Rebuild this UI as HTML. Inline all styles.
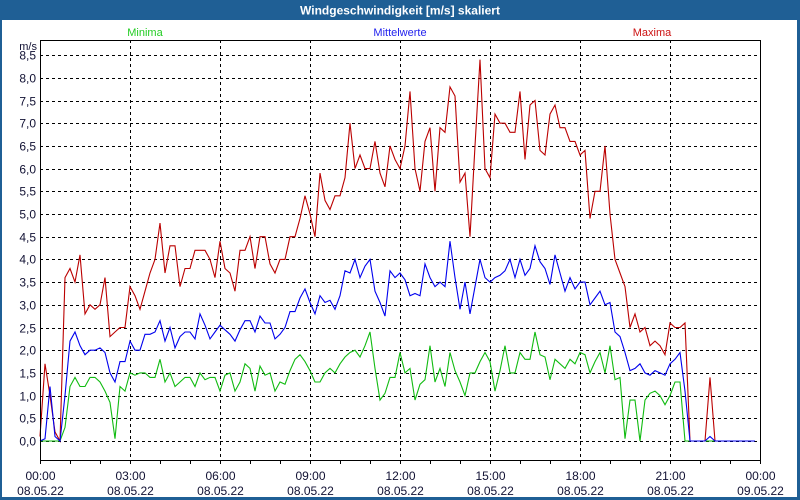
<!DOCTYPE html>
<html><head><meta charset="utf-8"><style>
html,body{margin:0;padding:0;background:#fff;}
#wrap{position:relative;width:800px;height:500px;overflow:hidden;}
svg text{font-family:"Liberation Sans",sans-serif;}
</style></head><body>
<div id="wrap">
<svg id="chart" width="800" height="500" viewBox="0 0 800 500" xmlns="http://www.w3.org/2000/svg">
<rect x="0" y="0" width="800" height="500" fill="#1f5f95"/>
<rect x="2" y="20" width="795" height="477" fill="#fff"/>
<text x="400" y="14.5" text-anchor="middle" font-size="12" font-weight="bold" fill="#fff">Windgeschwindigkeit [m/s] skaliert</text>
<text x="145" y="36" text-anchor="middle" font-size="11" fill="#22cc22">Minima</text>
<text x="400" y="36" text-anchor="middle" font-size="11" fill="#2222ee">Mittelwerte</text>
<text x="652" y="36" text-anchor="middle" font-size="11" fill="#cc1111">Maxima</text>
<text x="37" y="50" text-anchor="end" font-size="11" fill="#111133">m/s</text>
<g id="grid"></g>
<g id="series"></g>
<rect x="40.5" y="40.5" width="720" height="420" fill="none" stroke="#000" stroke-width="1"/>
<g id="axes"></g>
</svg>
</div>
<script>
const yTicks = [0,0.5,1,1.5,2,2.5,3,3.5,4,4.5,5,5.5,6,6.5,7,7.5,8,8.5];
const yTickLabels = ["0,0","0,5","1,0","1,5","2,0","2,5","3,0","3,5","4,0","4,5","5,0","5,5","6,0","6,5","7,0","7,5","8,0","8,5"];
const xTickHours = [0,3,6,9,12,15,18,21,24];
const xTickTimes = ["00:00","03:00","06:00","09:00","12:00","15:00","18:00","21:00","00:00"];
const xTickDates = ["08.05.22","08.05.22","08.05.22","08.05.22","08.05.22","08.05.22","08.05.22","08.05.22","09.05.22"];
const maxima = [
0.1,1.7,1.0,0.2,0.0,3.6, 3.8,3.5,4.1,2.8,3.0,2.9, 3.0,3.6,2.3,2.4,2.5,2.5,
3.4,3.2,2.9,3.3,3.7,4.0, 4.8,3.7,4.3,4.3,3.4,3.8, 3.8,4.2,4.2,4.2,4.0,3.6,
4.4,3.8,3.7,3.3,4.2,4.2, 4.5,3.8,4.5,4.5,3.9,3.7, 4.0,4.0,4.5,4.5,4.9,5.4,
5.0,4.5,5.9,5.3,5.1,5.4, 5.4,5.8,7.0,6.0,6.3,6.0, 6.0,6.6,5.9,5.6,6.5,6.2,
6.0,6.5,7.7,6.0,5.5,6.6, 6.9,5.5,6.9,6.8,7.8,7.6, 5.7,5.9,4.5,6.5,8.4,6.0,
5.8,7.2,7.0,7.0,6.8,6.8, 7.7,6.2,7.4,7.5,6.4,6.3, 7.2,7.4,6.9,6.9,6.6,6.6,
6.3,6.4,4.9,5.5,5.5,6.5, 5.0,4.0,3.7,3.4,2.5,2.8, 2.4,2.5,2.1,2.2,2.1,1.9,
2.6,2.5,2.5,2.6,0,0, 0,0,1.4,0,0,0, 0,0,0,0,0,0];
const mittelwerte = [
0,0.05,1.2,0.1,0,1.0, 2.2,2.4,2.1,1.9,2.0,2.0, 2.05,1.95,1.5,1.3,1.75,1.75,
2.2,2.0,2.0,2.35,2.35,2.4, 2.65,2.2,2.5,2.05,2.3,2.4, 2.4,2.25,2.8,2.55,2.25,2.4,
2.55,2.45,2.35,2.2,2.45,2.65, 2.65,2.4,2.75,2.6,2.6,2.25, 2.35,2.5,2.85,2.85,3.15,3.35,
3.05,2.8,3.2,3.05,3.1,2.9, 3.2,3.75,3.7,4.0,3.6,3.85, 4.0,3.3,3.05,2.75,3.75,3.6,
3.7,3.55,3.2,3.25,3.2,3.9, 3.6,3.4,3.5,3.4,4.4,3.6, 2.9,3.5,2.8,3.4,4.0,3.6,
3.5,3.6,3.65,3.75,4.0,3.6, 4.0,3.65,3.8,4.3,3.95,3.8, 3.45,4.1,3.7,3.3,3.6,3.35,
3.5,3.5,3.0,3.15,3.3,3.0, 3.05,2.4,2.3,1.95,1.55,1.6, 1.7,1.5,1.45,1.55,1.5,1.45,
1.7,1.8,1.95,1.1,0,0, 0,0,0.1,0,0,0, 0,0,0,0,0,0];
const minima = [
0,0,0,0,0,0.3, 1.2,1.4,1.2,1.2,1.4,1.4, 1.3,1.1,0.85,0.05,1.2,1.1,
1.5,1.45,1.5,1.5,1.4,1.4, 1.8,1.3,1.5,1.2,1.3,1.4, 1.4,1.2,1.5,1.35,1.4,1.4,
1.1,1.45,1.5,1.1,1.3,1.7, 1.6,1.1,1.65,1.45,1.5,1.1, 1.3,1.25,1.55,1.8,1.9,1.75,
1.55,1.3,1.3,1.5,1.6,1.5, 1.7,1.85,1.95,2.0,1.85,2.1, 2.4,1.6,0.9,1.05,1.4,1.4,
1.95,1.5,1.6,0.9,1.25,1.35, 2.1,1.3,1.6,1.2,1.95,1.55, 1.3,1.0,1.5,1.5,1.75,1.95,
1.75,1.1,1.55,2.1,1.5,1.5, 1.95,1.8,1.8,2.4,1.9,1.85, 1.35,1.8,1.7,1.6,1.8,1.7,
1.95,1.9,1.5,1.75,1.95,1.5, 2.1,1.35,1.4,0.05,0.9,0.9, 0.0,0.9,1.05,1.1,1.0,0.8,
1.0,1.3,1.3,0,0,0, 0,0,0,0,0,0, 0,0,0,0,0,0];

const NS = "http://www.w3.org/2000/svg";
const X0 = 40, X1 = 760, Y0 = 441, PXU = 45.4;
function xHour(h){ return X0 + (X1 - X0) * h / 24; }
function xIdx(i){ return xHour(i / 6); }
function yVal(v){ return Y0 - v * PXU; }
function mk(tag, attrs){ const e = document.createElementNS(NS, tag); for (const k in attrs) e.setAttribute(k, attrs[k]); return e; }

const grid = document.getElementById('grid');
yTicks.forEach((v, i) => {
  const y = Math.round(yVal(v)) + 0.5;
  const l = mk('line', {x1: X0, x2: X1, y1: y, y2: y, stroke: '#000', 'stroke-width': 1, 'stroke-dasharray': '3,3'});
  
  
  grid.appendChild(l);
  const t = mk('text', {x: 36, y: y + 4, 'text-anchor': 'end', 'font-size': 12, fill: '#111133'});
  t.textContent = yTickLabels[i];
  
  
  grid.appendChild(t);
});
xTickHours.forEach((h, i) => {
  const x = Math.round(xHour(h)) + 0.5;
  if (h > 0 && h < 24) {
    const l = mk('line', {x1: x, x2: x, y1: 40, y2: 460, stroke: '#000', 'stroke-width': 1, 'stroke-dasharray': '3,3'});
    
    
    grid.appendChild(l);
  }
  const t1 = mk('text', {x: x, y: 480, 'text-anchor': 'middle', 'font-size': 12, fill: '#111133'});
  t1.textContent = xTickTimes[i];
  
  
  grid.appendChild(t1);
  const t2 = mk('text', {x: x, y: 495, 'text-anchor': 'middle', 'font-size': 12, fill: '#111133'});
  t2.textContent = xTickDates[i];
  
  
  grid.appendChild(t2);
});
const axes = document.getElementById('axes');
for (let h = 0; h <= 24; h++) {
  const x = Math.round(xHour(h)) + 0.5;
  const l = mk('line', {x1: x, x2: x, y1: 460, y2: 464, stroke: '#000', 'stroke-width': 1});
  
  
  axes.appendChild(l);
}
const series = document.getElementById('series');
function drawSeries(data, color, name){
  const pts = data.map((v, i) => xIdx(i).toFixed(1) + ',' + yVal(v).toFixed(1)).join(' ');
  const p = mk('polyline', {points: pts, fill: 'none', stroke: color, 'stroke-width': 1.1, 'stroke-linejoin': 'miter'});
  
  
  series.appendChild(p);
}
drawSeries(minima, '#11bb11', 'minima-line');
drawSeries(maxima, '#bb0000', 'maxima-line');
drawSeries(mittelwerte, '#0000ee', 'mittelwerte-line');
</script>
</body></html>
